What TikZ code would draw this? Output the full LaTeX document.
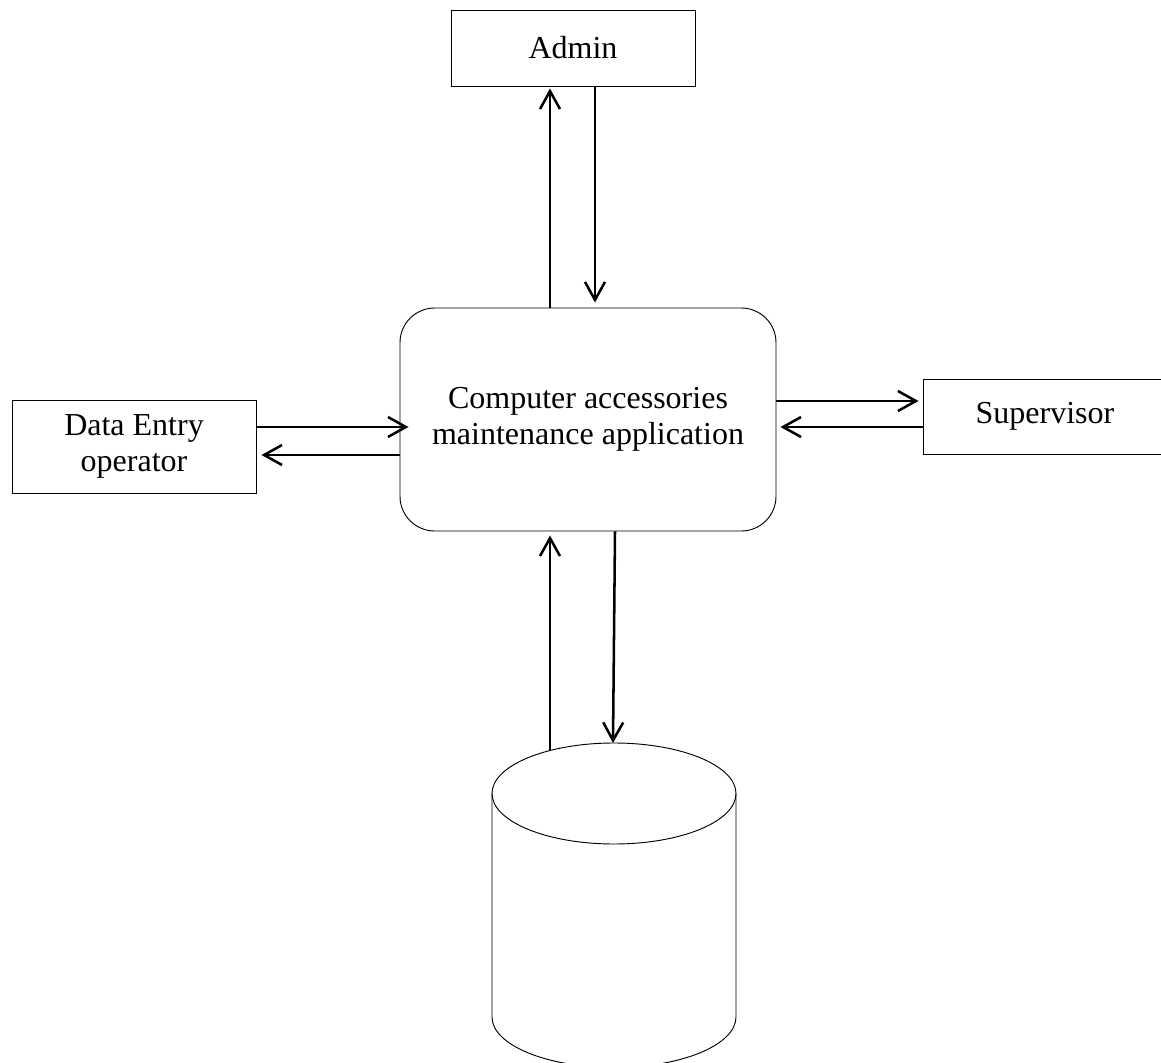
\documentclass[tikz,border=0pt]{standalone}
\usepackage{fontspec}
\setmainfont{Liberation Serif}
\usetikzlibrary{arrows.meta}
\begin{document}
\begin{tikzpicture}[x=0.75pt,y=-0.75pt,
  box/.style={draw, line width=0.7pt, inner sep=0pt, align=center,
    font=\fontsize{24}{27}\selectfont},
  arr/.style={line width=1.9pt,
    -{Straight Barb[length=13.5pt,width=15pt,line width=1.9pt]}},
  dbline/.style={line width=0.7pt}]
\useasboundingbox (0,0) rectangle (1161,1063);
% boxes
\node[box, minimum width=183pt, minimum height=57pt] (admin) at (573,48) {Admin};
\node[box, rounded corners=26pt, minimum width=282pt, minimum height=167.25pt] (app) at (588,419.5)
  {Computer accessories\\maintenance application};
\node[box, minimum width=183pt, minimum height=69.75pt] (de) at (134,446.5) {Data Entry\\operator};
\node[box, minimum width=183pt, minimum height=56.25pt] (sup) at (1045,416.5) {Supervisor};
% database cylinder
\draw[dbline] (614,793.5) ellipse [x radius=91.5pt, y radius=37.875pt];
\draw[dbline] (492,793.5) -- (492,1017)
  arc[start angle=180, end angle=360, x radius=91.5pt, y radius=37.875pt]
  -- (736,793.5);
\coordinate (dbup) at (550,751);
\coordinate (dbdown) at (613,743);
% connectors
\draw[arr] ([xshift=-28.5pt]app.north) -- ([xshift=-17.25pt,yshift=-1.5pt]admin.south);
\draw[arr] ([xshift=16.5pt]admin.south) -- ([xshift=5.25pt,yshift=3.75pt]app.north);
\draw[arr] ([yshift=14.625pt]de.east) -- ([xshift=6.75pt,yshift=-5.625pt]app.west);
\draw[arr] ([yshift=-26.625pt]app.west) -- ([xshift=3.75pt,yshift=-6.375pt]de.east);
\draw[arr] ([yshift=13.875pt]app.east) -- ([xshift=-3pt,yshift=11.625pt]sup.west);
\draw[arr] ([yshift=-7.875pt]sup.west) -- ([xshift=3pt,yshift=-5.625pt]app.east);
\draw[arr] (dbup) -- ([xshift=-28.5pt,yshift=-3pt]app.south);
\draw[arr] ([xshift=20.25pt]app.south) -- (dbdown);
\end{tikzpicture}
\end{document}
